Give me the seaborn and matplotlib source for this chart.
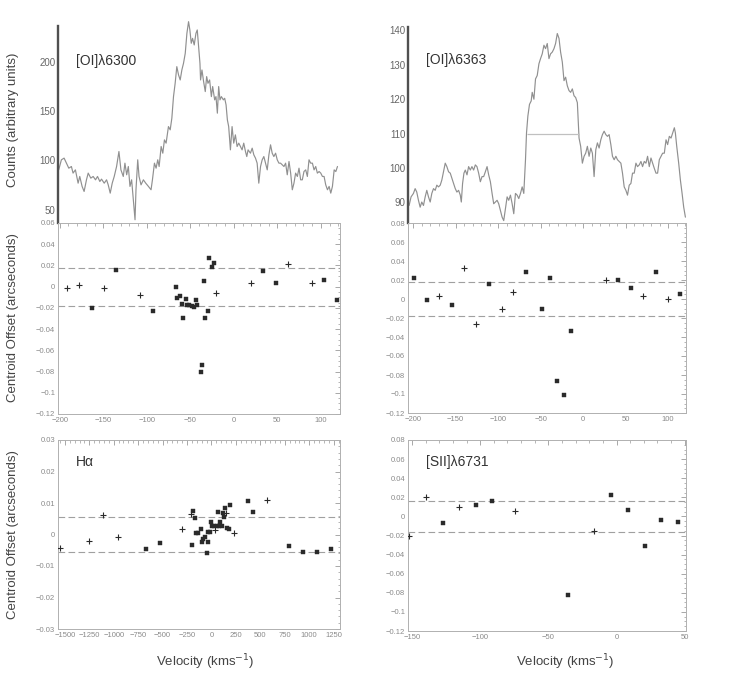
import matplotlib
matplotlib.use("Agg")
import matplotlib.pyplot as plt
import numpy as np
import pandas as pd
import seaborn as sns
from matplotlib.ticker import MultipleLocator, FuncFormatter

# ---------------- data ----------------
# [OI]6300 profile
oi6300_vel = [-201.2, -198.1, -195.0, -192.3, -189.6, -186.6, -184.7, -182.0, -178.9, -177.0,
              -174.3, -172.0, -169.3, -167.3, -164.3, -161.6, -158.9, -156.6, -153.9, -152.0,
              -148.9, -146.2, -144.3, -142.0, -139.7, -137.4, -134.7, -132.0, -129.7, -127.0,
              -125.1, -123.1, -121.2, -119.3, -117.4, -115.4, -113.5, -112.4, -110.4, -108.9,
              -106.6, -103.9, -101.2, -98.1, -95.1, -93.5, -91.2, -89.3, -87.4, -85.8,
              -83.5, -81.6, -79.7, -77.8, -75.1, -73.1, -71.2, -69.3, -67.4, -65.5,
              -63.5, -61.6, -59.7, -57.8, -55.8, -53.9, -52.0, -50.5, -48.9, -47.4,
              -45.5, -43.5, -42.0, -40.5, -38.9, -38.2, -36.6, -34.7, -32.8, -31.2,
              -29.7, -27.8, -25.8, -24.3, -22.0, -20.5, -18.9, -17.4, -15.9, -14.3,
              -12.0, -10.5, -8.9, -7.4, -5.9, -3.9, -2.0, -0.1, 1.8, 3.8,
              5.7, 7.6, 9.5, 11.4, 13.4, 14.9, 16.4, 19.1, 21.1, 23.0,
              24.9, 26.8, 28.7, 30.7, 32.6, 34.5, 36.4, 38.4, 40.3, 42.2,
              44.1, 46.0, 48.0, 49.9, 51.8, 53.7, 55.7, 57.6, 59.5, 61.4,
              63.4, 65.3, 67.2, 69.1, 71.0, 73.0, 74.9, 76.8, 78.7, 80.6,
              82.6, 84.5, 86.4, 88.3, 90.3, 92.2, 94.1, 96.0, 98.0, 99.9,
              101.8, 103.7, 105.6, 107.6, 109.5, 111.4, 113.3, 115.3, 117.2, 119.1]
oi6300_counts = [90.5, 100.7, 102.4, 97.3, 92.2, 93.9, 87.2, 90.5, 77.0, 83.8,
                 73.7, 68.6, 80.4, 87.2, 82.1, 83.8, 80.4, 83.8, 78.7, 81.1,
                 77.0, 80.4, 75.3, 66.9, 77.0, 83.8, 93.9, 109.1, 90.5, 83.8,
                 97.3, 85.5, 93.9, 73.7, 80.4, 60.1, 39.9, 70.3, 100.7, 83.8,
                 75.3, 80.4, 77.0, 73.7, 70.3, 80.4, 97.3, 92.2, 100.7, 93.9,
                 114.2, 107.4, 120.9, 117.6, 134.4, 131.1, 142.9, 164.8, 178.3, 195.2,
                 186.8, 181.7, 191.8, 198.6, 208.7, 229.0, 240.8, 232.4, 218.9, 223.9,
                 217.2, 229.0, 232.4, 215.5, 198.6, 181.7, 191.8, 180.0, 169.9, 185.1,
                 178.3, 181.7, 164.8, 175.0, 161.5, 164.8, 148.0, 175.0, 161.5, 164.8,
                 161.5, 163.1, 156.4, 141.2, 134.4, 110.8, 134.4, 117.6, 126.0, 114.2,
                 117.6, 114.2, 110.8, 117.6, 109.1, 104.0, 110.8, 107.4, 112.5, 105.7,
                 102.4, 97.3, 77.0, 93.9, 100.7, 104.0, 97.3, 90.5, 105.7, 115.9,
                 107.4, 104.0, 107.4, 100.7, 97.3, 97.3, 95.6, 93.9, 97.3, 85.5,
                 99.0, 87.2, 70.3, 77.0, 87.2, 83.8, 92.2, 80.4, 80.4, 88.8,
                 90.5, 83.8, 100.7, 97.3, 97.3, 90.5, 93.9, 87.2, 88.8, 87.2,
                 83.8, 83.8, 75.3, 70.3, 73.7, 66.9, 73.7, 90.5, 88.8, 93.9]

# [OI]6363 profile
oi6363_vel = [-204.7, -202.4, -199.6, -197.6, -195.7, -193.7, -191.7, -189.8, -187.8, -185.8,
              -183.9, -181.9, -179.9, -178.0, -176.0, -174.0, -172.1, -170.1, -168.1, -166.2,
              -164.2, -162.2, -160.3, -158.3, -156.3, -154.4, -152.4, -150.4, -148.5, -146.5,
              -144.5, -143.3, -141.8, -140.2, -138.6, -136.6, -134.7, -132.7, -130.8, -128.8,
              -126.8, -124.9, -122.9, -120.9, -118.9, -117.0, -115.0, -113.0, -111.1, -109.1,
              -107.1, -105.2, -103.2, -101.2, -99.3, -97.3, -95.3, -93.4, -91.4, -89.4,
              -87.5, -85.5, -83.5, -81.6, -79.6, -77.6, -75.7, -73.7, -71.7, -69.8,
              -67.8, -66.6, -65.0, -63.1, -61.1, -59.9, -57.9, -56.0, -54.0, -52.0,
              -50.1, -48.1, -46.1, -44.2, -42.2, -40.2, -38.3, -36.3, -34.3, -32.4,
              -30.4, -28.4, -26.5, -24.5, -22.5, -20.6, -18.6, -16.6, -14.7, -12.7,
              -10.7, -8.8, -6.8, -4.8, -2.9, -0.9, 1.1, 3.0, 5.0, 7.0,
              9.0, 10.9, 12.9, 14.9, 16.8, 18.8, 20.8, 22.7, 24.7, 26.7,
              28.6, 30.6, 32.6, 34.5, 36.5, 38.5, 40.4, 42.4, 44.4, 46.3,
              48.3, 50.3, 52.2, 54.2, 56.2, 58.1, 60.1, 62.1, 64.0, 66.0,
              68.0, 69.9, 71.9, 73.9, 75.8, 77.8, 79.8, 81.7, 83.7, 85.7,
              87.6, 89.6, 91.6, 93.5, 95.5, 97.5, 99.4, 101.4, 103.4, 105.4,
              107.3, 108.5, 110.1, 112.4, 114.4, 116.4, 118.3, 120.3]
oi6363_counts = [89.1, 91.6, 92.6, 94.0, 93.0, 90.6, 88.6, 90.1, 89.1, 91.6,
                 93.5, 91.6, 90.1, 92.6, 94.0, 93.5, 95.0, 94.5, 95.0, 96.5,
                 98.9, 101.4, 100.4, 98.9, 98.5, 97.0, 95.5, 94.0, 93.0, 93.5,
                 92.1, 90.1, 95.5, 98.5, 99.4, 98.0, 100.4, 99.4, 100.4, 99.4,
                 100.9, 100.4, 98.5, 96.0, 97.5, 97.5, 98.9, 100.4, 98.0, 96.0,
                 92.6, 89.6, 90.1, 90.6, 89.6, 87.7, 85.7, 84.7, 88.2, 91.6,
                 90.6, 92.1, 89.6, 86.7, 92.6, 92.1, 91.1, 92.6, 94.5, 92.6,
                 102.4, 110.2, 115.1, 118.5, 119.5, 122.0, 120.0, 125.9, 126.9, 130.3,
                 131.8, 133.2, 135.7, 134.7, 136.2, 131.8, 133.2, 133.7, 134.7, 136.2,
                 139.1, 137.7, 133.7, 130.8, 125.4, 126.4, 123.9, 122.5, 122.0, 123.0,
                 121.0, 120.5, 119.0, 108.7, 106.3, 101.4, 103.4, 104.3, 106.3, 103.4,
                 105.8, 104.3, 97.5, 105.3, 107.3, 105.8, 108.2, 109.7, 110.7, 109.7,
                 109.2, 109.7, 106.8, 103.4, 102.4, 103.4, 102.4, 101.9, 101.4, 98.5,
                 94.5, 93.5, 92.1, 95.0, 95.5, 98.5, 98.5, 101.4, 100.4, 100.9,
                 101.9, 100.4, 101.9, 101.4, 103.4, 100.4, 102.9, 101.4, 99.9, 98.5,
                 98.5, 102.4, 103.4, 104.3, 104.3, 108.2, 106.8, 109.2, 108.7, 110.2,
                 111.7, 110.2, 106.3, 101.4, 96.5, 92.6, 88.6, 85.7]
# half-maximum marker of the [OI]6363 profile
oi6363_hm_level = 110.0
oi6363_hm_range = [-66.0, -5.0]

# centroid offsets: [OI]6300
c6300_vel = [-192, -178, -163, -149, -135, -108, -93, -67, -65, -62, -60, -58,
             -55.5, -53.5, -51, -48, -46, -44, -42, -38, -37, -34, -33, -30,
             -28, -25.5, -22.5, -20, 20, 34, 48, 62, 90, 104, 119]
c6300_off = [-0.001, 0.002, -0.020, -0.001, 0.016, -0.008, -0.023, 0.000, -0.011, -0.009,
             -0.016, -0.030, -0.012, -0.017, -0.017, -0.018, -0.019, -0.013, -0.017, -0.080,
             -0.074, 0.005, -0.030, -0.023, 0.027, 0.019, 0.022, -0.006, 0.003, 0.015,
             0.003, 0.021, 0.003, 0.006, -0.013]
c6300_kind = ["+", "+", "s", "+", "s", "+", "s", "s", "s", "s", "s", "s",
              "s", "s", "s", "s", "s", "s", "s", "s", "s", "s", "s", "s",
              "s", "s", "s", "+", "+", "s", "s", "+", "+", "s", "s"]
c6300_band = 0.018

# centroid offsets: [OI]6363
c6363_vel = [-198.5, -183.5, -169, -154, -140, -125.6, -111, -96, -82, -67, -48,
             -39.5, -31, -22.5, -14, 27, 41.6, 56.6, 70.7, 85.7, 100, 114]
c6363_off = [0.022, -0.001, 0.0035, -0.006, 0.033, -0.026, 0.016, -0.010, 0.007, 0.028,
             -0.0105, 0.022, -0.086, -0.101, -0.034, 0.020, 0.020, 0.012, 0.0035, 0.028,
             0.000, 0.005]
c6363_kind = ["s", "s", "+", "s", "+", "+", "s", "+", "+", "s", "s",
              "s", "s", "s", "s", "+", "s", "s", "+", "s", "+", "s"]
c6363_band = 0.018

# centroid offsets: H-alpha
ha_vel = [-1549, -1256, -1109, -959, -670, -523, -305, -213, -199, -186, -172, -155,
          -135, -110, -100, -87, -70, -49, -39, -33, -15, -5, 8, 26, 36, 53, 66,
          77, 90, 104, 114, 128, 138, 152, 158, 176, 193, 234, 370, 424, 564, 789,
          932, 1082, 1222]
ha_off = [-0.0044, -0.0021, 0.0063, -0.0008, -0.0047, -0.0028, 0.0018, 0.0065, -0.0033,
          0.0075, 0.0053, 0.0006, 0.0006, 0.0018, -0.0023, -0.0015, -0.0007, -0.0060,
          -0.0025, 0.0007, 0.0009, 0.0041, 0.0027, 0.0028, 0.0014, 0.0027, 0.0071,
          0.0028, 0.0039, 0.0027, 0.0067, 0.0055, 0.0085, 0.0067, 0.0022, 0.0018,
          0.0093, 0.0004, 0.0106, 0.0072, 0.0110, -0.0037, -0.0057, -0.0057, -0.0047]
ha_kind = ["+", "+", "+", "+", "s", "s", "+", "+", "s", "s", "s", "s",
           "s", "s", "s", "s", "s", "s", "s", "s", "s", "s", "s", "s", "+", "s", "s",
           "s", "s", "s", "s", "s", "s", "+", "s", "s", "s", "+", "s", "s", "+", "s",
           "s", "s", "s"]
ha_band = 0.0057

# centroid offsets: [SII]6731
s6731_vel = [-152, -140, -127.5, -115.6, -103, -91, -74.5, -35.5, -16.7, -4, 8.4,
             20.7, 33, 45.4]
s6731_off = [-0.020, 0.0206, -0.007, 0.0098, 0.0116, 0.0158, 0.0057, -0.0826, -0.0153,
             0.0221, 0.0070, -0.031, -0.0038, -0.0062]
s6731_kind = ["+", "+", "s", "+", "s", "s", "+", "s", "+", "s", "s", "s", "s", "s"]
s6731_band = 0.016

# ---------------- style ----------------
sns.set_style("white")
plt.rcParams["font.family"] = ["Liberation Sans", "DejaVu Sans"]
plt.rcParams["axes.unicode_minus"] = True

W, H = 742, 677
fig = plt.figure(figsize=(W / 100, H / 100), dpi=100)


def box(x0, y0, x1, y1):
    return [x0 / W, 1 - y1 / H, (x1 - x0) / W, (y1 - y0) / H]


ax_tl = fig.add_axes(box(58, 20, 340, 223))
ax_tr = fig.add_axes(box(408, 27, 686, 223))
ax_ml = fig.add_axes(box(58, 223, 340, 414))
ax_mr = fig.add_axes(box(408, 223, 686, 413))
ax_bl = fig.add_axes(box(58, 440, 340, 629))
ax_br = fig.add_axes(box(408, 440, 686, 631))

LINE = "#909090"
TICKC = "#9a9a9a"
DARK = "#2a2a2a"


def gfmt(x, pos):
    x = round(x, 6)
    s = f"{x:g}"
    return s.replace("-", "\u2212")


def spectrum(ax, vel, counts, xlim, ylim, ymajor, label, spine_top, label_y):
    df = pd.DataFrame({"v": vel, "c": counts})
    sns.lineplot(data=df, x="v", y="c", ax=ax, color=LINE, lw=0.85,
                 sort=False, estimator=None)
    ax.set_xlim(*xlim)
    ax.set_ylim(*ylim)
    for s in ["top", "right", "bottom"]:
        ax.spines[s].set_visible(False)
    ax.spines["left"].set_color("#505050")
    ax.spines["left"].set_linewidth(1.7)
    ax.spines["left"].set_bounds(ylim[0], spine_top)
    ax.set_xticks([])
    ax.yaxis.set_major_locator(MultipleLocator(ymajor))
    ax.yaxis.set_major_formatter(FuncFormatter(gfmt))
    ax.tick_params(axis="y", direction="in", length=3, width=0.6,
                   colors="#777777", labelsize=7, labelcolor="#666666", pad=2)
    ax.set_xlabel("")
    ax.set_ylabel("")
    ax.patch.set_alpha(0)
    ax.text(0.065, label_y, label, transform=ax.transAxes, fontsize=10,
            color="#333333", va="center", ha="left")


def offsets(ax, vel, off, kind, band, xlim, ylim, xmajor, xminor, ymajor,
            yminor, label=None):
    df = pd.DataFrame({"v": vel, "o": off, "k": kind})
    sq = df[df["k"] == "s"]
    pl = df[df["k"] == "+"]
    sns.scatterplot(data=sq, x="v", y="o", ax=ax, marker="s", s=8,
                    color=DARK, edgecolor=DARK, linewidth=0.3, zorder=3)
    sns.scatterplot(data=pl, x="v", y="o", ax=ax, marker="+", s=15,
                    color=DARK, linewidth=0.8, zorder=3)
    ax.axhline(band, color="#a0a0a0", lw=0.8, ls=(0, (6, 3)), zorder=1)
    ax.axhline(-band, color="#a0a0a0", lw=0.8, ls=(0, (6, 3)), zorder=1)
    ax.set_xlim(*xlim)
    ax.set_ylim(*ylim)
    for s in ax.spines.values():
        s.set_color("#b0b0b0")
        s.set_linewidth(0.7)
    ax.xaxis.set_major_locator(MultipleLocator(xmajor))
    ax.xaxis.set_minor_locator(MultipleLocator(xminor))
    ax.yaxis.set_major_locator(MultipleLocator(ymajor))
    ax.yaxis.set_minor_locator(MultipleLocator(yminor))
    ax.xaxis.set_major_formatter(FuncFormatter(gfmt))
    ax.yaxis.set_major_formatter(FuncFormatter(gfmt))
    ax.tick_params(which="both", direction="in", top=True, right=True,
                   colors=TICKC, labelsize=5.5, labelcolor="#8a8a8a", pad=2)
    ax.tick_params(which="major", length=3.5, width=0.6)
    ax.tick_params(which="minor", length=1.8, width=0.5)
    ax.set_xlabel("")
    ax.set_ylabel("")
    ax.patch.set_alpha(0)
    if label:
        ax.text(0.065, 0.885, label, transform=ax.transAxes, fontsize=10,
                color="#333333", va="center", ha="left")


spectrum(ax_tl, oi6300_vel, oi6300_counts, (-202, 122), (36.6, 242.5),
         50, "[OI]\u03bb6300", 236, 0.80)
spectrum(ax_tr, oi6363_vel, oi6363_counts, (-206, 121), (84, 141),
         10, "[OI]\u03bb6363", 141, 0.83)
ax_tr.hlines(oi6363_hm_level, oi6363_hm_range[0], oi6363_hm_range[1],
             color="#c0c0c0", lw=0.9)

offsets(ax_ml, c6300_vel, c6300_off, c6300_kind, c6300_band, (-202, 122),
        (-0.12, 0.06), 50, 10, 0.02, 0.005)
offsets(ax_mr, c6363_vel, c6363_off, c6363_kind, c6363_band, (-206, 121),
        (-0.12, 0.08), 50, 10, 0.02, 0.005)
offsets(ax_bl, ha_vel, ha_off, ha_kind, ha_band, (-1570, 1315),
        (-0.03, 0.03), 250, 50, 0.01, 0.002, label="H\u03b1")
offsets(ax_br, s6731_vel, s6731_off, s6731_kind, s6731_band, (-153, 51),
        (-0.12, 0.08), 50, 10, 0.02, 0.005, label="[SII]\u03bb6731")

# axis titles
fig.text(13 / W, 1 - 120 / H, "Counts (arbitrary units)", rotation=90,
         ha="center", va="center", fontsize=9.5, color="#444444")
fig.text(13 / W, 1 - 318 / H, "Centroid Offset (arcseconds)", rotation=90,
         ha="center", va="center", fontsize=9.5, color="#444444")
fig.text(13 / W, 1 - 535 / H, "Centroid Offset (arcseconds)", rotation=90,
         ha="center", va="center", fontsize=9.5, color="#444444")
fig.text(205 / W, 1 - 662 / H, "Velocity (kms$^{-1}$)", ha="center",
         va="center", fontsize=9.5, color="#444444")
fig.text(565 / W, 1 - 662 / H, "Velocity (kms$^{-1}$)", ha="center",
         va="center", fontsize=9.5, color="#444444")

fig.savefig("out.png", dpi=100, facecolor="white")
